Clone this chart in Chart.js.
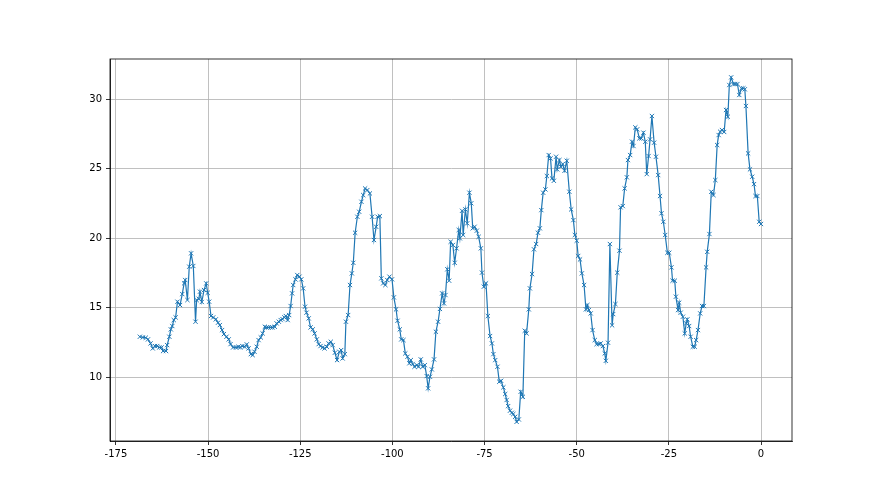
<!DOCTYPE html>
<html>
<head>
<meta charset="utf-8">
<script src="https://cdn.jsdelivr.net/npm/chart.js@4"></script>
<style>
  html, body { margin: 0; padding: 0; background: #fff; }
  #wrap { width: 880px; height: 495px; }
</style>
</head>
<body>
<div id="wrap"><canvas id="myChart" width="880" height="495"></canvas></div>
<script>
const hours = [
  -168.5, -167.7, -166.9, -166.3, -165.6, -165.0, -164.4, -163.8, -163.2, -162.6,
  -162.2, -161.4, -161.1, -160.5, -160.1, -159.7, -159.3, -158.8, -158.3, -157.6,
  -157.0, -156.5, -156.2, -155.6, -155.1, -154.6, -154.0, -153.4, -153.1, -152.5,
  -152.2, -151.7, -151.1, -150.5, -150.1, -149.7, -149.2, -148.6, -147.9, -147.3,
  -146.8, -146.2, -145.7, -145.0, -144.4, -143.9, -143.2, -142.4, -141.8, -141.3,
  -140.7, -140.1, -139.5, -139.0, -138.4, -137.9, -137.4, -136.8, -136.3, -135.7,
  -135.2, -134.6, -134.1, -133.6, -133.0, -132.5, -131.9, -131.4, -130.8, -130.3,
  -129.8, -129.3, -128.9, -128.4, -128.0, -127.6, -127.2, -126.9, -126.3, -125.8,
  -125.2, -124.7, -124.2, -123.7, -123.3, -122.7, -122.2, -121.6, -121.1, -120.5,
  -120.0, -119.5, -118.9, -118.4, -117.8, -117.3, -116.7, -116.2, -115.6, -115.0,
  -114.4, -113.9, -113.5, -112.9, -112.6, -112.0, -111.5, -111.0, -110.6, -110.1,
  -109.5, -109.0, -108.4, -107.9, -107.4, -106.8, -106.1, -105.5, -105.0, -104.4,
  -104.0, -103.4, -103.0, -102.5, -101.9, -101.4, -100.8, -100.1, -99.6, -99.0,
  -98.6, -98.0, -97.6, -97.0, -96.5, -95.9, -95.4, -95.0, -94.5, -94.0,
  -93.4, -92.9, -92.3, -91.8, -91.2, -90.7, -90.3, -89.8, -89.3, -88.7,
  -88.2, -87.6, -87.1, -86.5, -86.0, -85.6, -85.1, -84.6, -84.2, -83.6,
  -83.1, -82.6, -82.0, -81.7, -81.1, -80.8, -80.2, -79.7, -79.1, -78.6,
  -78.2, -77.7, -77.1, -76.6, -76.0, -75.7, -75.2, -74.6, -74.1, -73.5,
  -73.0, -72.6, -72.1, -71.5, -71.0, -70.5, -69.9, -69.4, -69.0, -68.6,
  -68.1, -67.6, -67.2, -66.7, -66.3, -65.7, -65.2, -64.6, -64.1, -63.6,
  -63.0, -62.7, -62.1, -61.6, -61.0, -60.5, -60.0, -59.6, -59.1, -58.5,
  -58.1, -57.6, -57.1, -56.7, -56.2, -55.6, -55.3, -54.7, -54.3, -53.8,
  -53.3, -52.7, -52.0, -51.5, -50.9, -50.5, -50.0, -49.6, -49.1, -48.6,
  -48.0, -47.5, -47.1, -46.7, -46.2, -45.7, -45.1, -44.6, -44.0, -43.5,
  -42.9, -42.4, -42.1, -41.5, -41.0, -40.4, -40.1, -39.5, -39.0, -38.4,
  -38.1, -37.5, -37.0, -36.4, -36.1, -35.5, -35.0, -34.6, -34.1, -33.6,
  -33.0, -32.5, -31.9, -31.4, -31.0, -30.5, -30.1, -29.6, -29.0, -28.5,
  -27.9, -27.4, -27.0, -26.5, -26.0, -25.4, -24.9, -24.3, -24.0, -23.4,
  -23.1, -22.5, -22.2, -21.8, -21.2, -20.7, -20.3, -20.0, -19.5, -19.1,
  -18.5, -18.0, -17.6, -17.1, -16.5, -16.0, -15.5, -14.9, -14.6, -14.0,
  -13.5, -12.9, -12.4, -11.9, -11.5, -11.1, -10.6, -10.0, -9.5, -9.0,
  -8.6, -8.1, -7.5, -7.0, -6.4, -5.9, -5.3, -4.8, -4.4, -4.1,
  -3.5, -3.0, -2.4, -1.9, -1.5, -1.0, -0.5, 0.0
];

const values = [
  12.90, 12.85, 12.83, 12.71, 12.42, 12.06, 12.23, 12.23, 12.13, 12.13,
  11.87, 11.87, 12.30, 12.90, 13.43, 13.67, 14.10, 14.29, 15.42, 15.18,
  15.97, 16.74, 16.98, 15.54, 17.94, 18.90, 17.99, 13.98, 15.54, 15.63,
  16.14, 15.40, 16.26, 16.74, 16.06, 15.42, 14.39, 14.29, 14.15, 13.91,
  13.74, 13.38, 13.09, 12.90, 12.71, 12.37, 12.13, 12.13, 12.18, 12.13,
  12.23, 12.18, 12.35, 12.06, 11.65, 11.58, 11.82, 12.18, 12.66, 12.85,
  13.14, 13.62, 13.57, 13.57, 13.57, 13.57, 13.62, 13.86, 13.98, 14.10,
  14.17, 14.29, 14.39, 14.10, 14.46, 15.11, 16.02, 16.62, 17.03, 17.34,
  17.22, 17.03, 16.38, 15.06, 14.63, 14.22, 13.57, 13.43, 13.14, 12.71,
  12.37, 12.23, 12.13, 12.06, 12.18, 12.42, 12.54, 12.30, 11.75, 11.22,
  11.82, 11.94, 11.34, 11.65, 13.98, 14.46, 16.62, 17.46, 18.22, 20.38,
  21.53, 21.89, 22.61, 23.09, 23.57, 23.45, 23.21, 21.53, 19.86, 20.81,
  21.53, 21.58, 17.10, 16.74, 16.62, 16.98, 17.22, 17.03, 15.73, 14.87,
  14.05, 13.43, 12.71, 12.66, 11.70, 11.46, 10.99, 11.22, 10.94, 10.74,
  10.86, 10.74, 11.27, 10.74, 10.86, 10.07, 9.19, 10.02, 10.55, 11.27,
  13.26, 13.98, 14.90, 16.02, 15.30, 15.90, 17.75, 16.93, 19.73, 19.50,
  18.22, 19.26, 20.58, 19.98, 21.96, 20.22, 22.06, 21.06, 23.26, 22.50,
  20.70, 20.81, 20.53, 20.09, 19.26, 17.51, 16.50, 16.74, 14.39, 12.95,
  12.42, 11.65, 11.22, 10.74, 9.66, 9.73, 9.26, 8.78, 8.35, 7.91,
  7.58, 7.43, 7.34, 7.14, 6.78, 6.95, 8.94, 8.58, 13.33, 13.14,
  14.87, 16.38, 17.41, 19.19, 19.57, 20.38, 20.70, 22.01, 23.26, 23.50,
  24.46, 25.97, 25.73, 24.29, 24.12, 25.85, 24.94, 25.61, 25.13, 25.32,
  24.84, 25.56, 23.33, 22.06, 21.29, 20.22, 19.81, 18.71, 18.46, 17.46,
  16.62, 14.87, 15.18, 14.82, 14.58, 13.38, 12.66, 12.37, 12.37, 12.42,
  12.23, 11.70, 11.17, 12.47, 19.57, 13.72, 14.53, 15.25, 17.51, 19.09,
  22.21, 22.30, 23.57, 24.37, 25.61, 25.97, 26.93, 26.62, 27.96, 27.82,
  27.17, 27.17, 27.58, 26.93, 24.60, 25.90, 27.10, 28.78, 26.86, 25.85,
  24.53, 23.02, 21.78, 21.17, 20.22, 18.94, 18.94, 17.89, 16.93, 16.93,
  15.78, 14.82, 15.35, 14.63, 14.34, 13.14, 13.86, 14.15, 13.67, 12.90,
  12.18, 12.18, 12.66, 13.38, 14.58, 15.11, 15.11, 17.89, 19.01, 20.29,
  23.33, 23.09, 24.17, 26.69, 27.41, 27.65, 27.77, 27.63, 29.21, 28.73,
  31.01, 31.56, 31.08, 31.08, 31.08, 30.29, 30.77, 30.77, 30.70, 29.50,
  26.09, 24.94, 24.41, 23.88, 23.02, 23.02, 21.17, 21.01
];

const xTicks = [-175, -150, -125, -100, -75, -50, -25, 0];
const yTicks = [10, 15, 20, 25, 30];

const blue = '#1f77b4';

// cadre complet autour de la zone de tracé (comme matplotlib)
const frame = {
  id: 'frame',
  afterDraw(chart) {
    const a = chart.chartArea;
    const c = chart.ctx;
    c.save();
    c.strokeStyle = '#000';
    c.lineWidth = 0.8;
    c.strokeRect(a.left, a.top, a.right - a.left, a.bottom - a.top);
    c.restore();
  }
};

const ctx = document.getElementById('myChart').getContext('2d');

new Chart(ctx, {
  type: 'scatter',
  data: {
    datasets: [{
      data: hours.map((h, i) => ({ x: h, y: values[i] })),
      showLine: true,
      borderColor: blue,
      borderWidth: 1.2,
      pointStyle: 'crossRot',
      pointRadius: 3,
      pointBorderColor: blue,
      pointBorderWidth: 1,
      pointHoverRadius: 3,
      tension: 0
    }]
  },
  options: {
    responsive: false,
    animation: false,
    layout: { padding: { left: 0, right: 88, top: 59, bottom: 0 } },
    plugins: {
      legend: { display: false },
      tooltip: { enabled: false }
    },
    scales: {
      x: {
        type: 'linear',
        min: -176.6,
        max: 8.4,
        afterBuildTicks: s => { s.ticks = xTicks.map(v => ({ value: v })); },
        afterFit: s => { s.height = 54; },
        grid: { color: '#b0b0b0', lineWidth: 0.8, tickLength: 4, tickColor: '#000' },
        border: { color: '#000', width: 0.8 },
        ticks: { color: '#000', padding: 3, maxRotation: 0, font: { family: 'DejaVu Sans', size: 10 } }
      },
      y: {
        type: 'linear',
        min: 5.4,
        max: 32.88,
        afterBuildTicks: s => { s.ticks = yTicks.map(v => ({ value: v })); },
        afterFit: s => { s.width = 110; },
        grid: { color: '#b0b0b0', lineWidth: 0.8, tickLength: 4, tickColor: '#000' },
        border: { color: '#000', width: 0.8 },
        ticks: { color: '#000', padding: 4, font: { family: 'DejaVu Sans', size: 10 } }
      }
    }
  },
  plugins: [frame]
});
</script>
</body>
</html>
